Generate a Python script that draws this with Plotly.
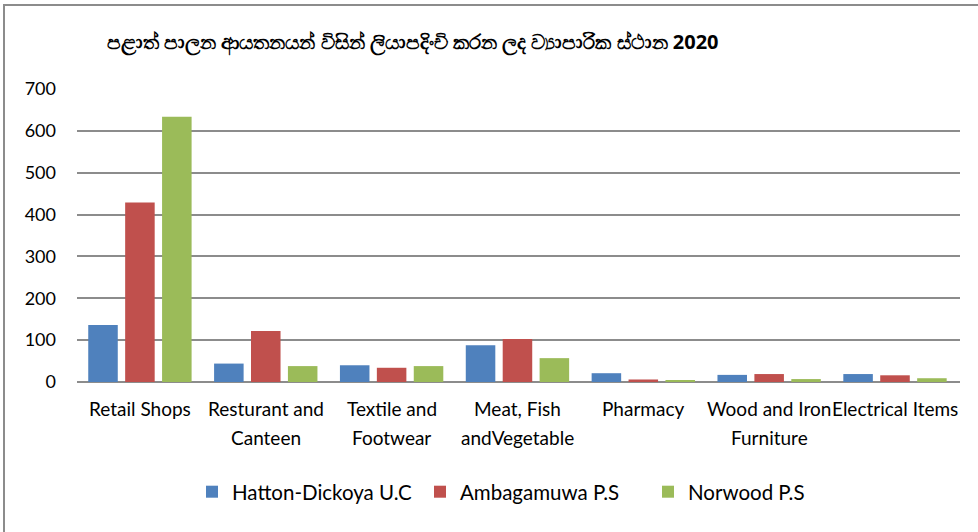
import plotly.graph_objects as go

categories = ["Retail Shops", "Resturant and Canteen", "Textile and Footwear",
              "Meat, Fish andVegetable", "Pharmacy", "Wood and Iron Furniture",
              "Electrical Items"]
label_line1 = ["Retail Shops", "Resturant and", "Textile and", "Meat, Fish",
               "Pharmacy", "Wood and Iron", "Electrical Items"]
label_line2 = ["", "Canteen", "Footwear", "andVegetable", "", "Furniture", ""]

series_names = ["Hatton-Dickoya U.C", "Ambagamuwa P.S", "Norwood P.S"]
hatton = [136, 44, 40, 88, 21, 17, 19]
ambagamuwa = [429, 122, 34, 103, 6, 19, 16]
norwood = [634, 38, 38, 57, 4, 7, 9]
colors = ["#4F81BD", "#C0504D", "#9BBB59"]

y_ticks = [0, 100, 200, 300, 400, 500, 600, 700]
title = "පළාත් පාලන ආයතනයන් විසින් ලියාපදිංචි කරන ලද ව්‍යාපාරික ස්ථාන 2020"

FONT = "Lato"

fig = go.Figure()
for name, vals, col in zip(series_names, [hatton, ambagamuwa, norwood], colors):
    fig.add_trace(go.Bar(x=categories, y=vals, name=name,
                         marker=dict(color=col, line=dict(width=0))))

annotations = []
for cat, l1, l2 in zip(categories, label_line1, label_line2):
    annotations.append(dict(x=cat, y=-0.092, xref="x", yref="paper", text=l1,
                            showarrow=False, yanchor="middle",
                            font=dict(family=FONT, size=19, color="#000")))
    if l2:
        annotations.append(dict(x=cat, y=-0.188, xref="x", yref="paper", text=l2,
                                showarrow=False, yanchor="middle",
                                font=dict(family=FONT, size=19, color="#000")))
annotations.append(dict(x=(413 - 77) / 883, y=1.160, xref="paper", yref="paper",
                        text="<b>" + title + "</b>", showarrow=False,
                        xanchor="center", yanchor="middle",
                        font=dict(family="Noto Sans", size=20, color="#000")))

fig.update_layout(
    width=978, height=532,
    margin=dict(l=77, r=18, t=89, b=150),
    plot_bgcolor="white", paper_bgcolor="white",
    barmode="group", bargap=0.12, bargroupgap=0.2,
    font=dict(family=FONT, size=18, color="#000"),
    xaxis=dict(showticklabels=False, showgrid=False, ticks="",
               showline=False, zeroline=False),
    yaxis=dict(range=[0, 700], tickvals=y_ticks, showgrid=True,
               gridcolor="#8C8C8C", gridwidth=1.5, zeroline=True,
               zerolinecolor="#8C8C8C", zerolinewidth=2, showline=False,
               ticks="", ticklen=0, tickfont=dict(family=FONT, size=18),
               ticklabelstandoff=20),
    showlegend=True,
    legend=dict(orientation="h", x=(192 - 77) / 883, xanchor="left", y=-0.375,
                yanchor="middle", font=dict(family=FONT, size=20.5),
                itemwidth=30, traceorder="normal",
                entrywidth=183, entrywidthmode="pixels"),
    annotations=annotations,
    shapes=[dict(type="rect", xref="paper", yref="paper",
                 x0=(4 - 77) / 883, x1=1.2, y0=-1.0, y1=(382 - 5) / 293,
                 line=dict(color="#8C8C8C", width=2), fillcolor="rgba(0,0,0,0)",
                 layer="below")],
)

fig.write_html("out.html", config={"displayModeBar": False},
               post_script="document.body.style.margin='0';")
